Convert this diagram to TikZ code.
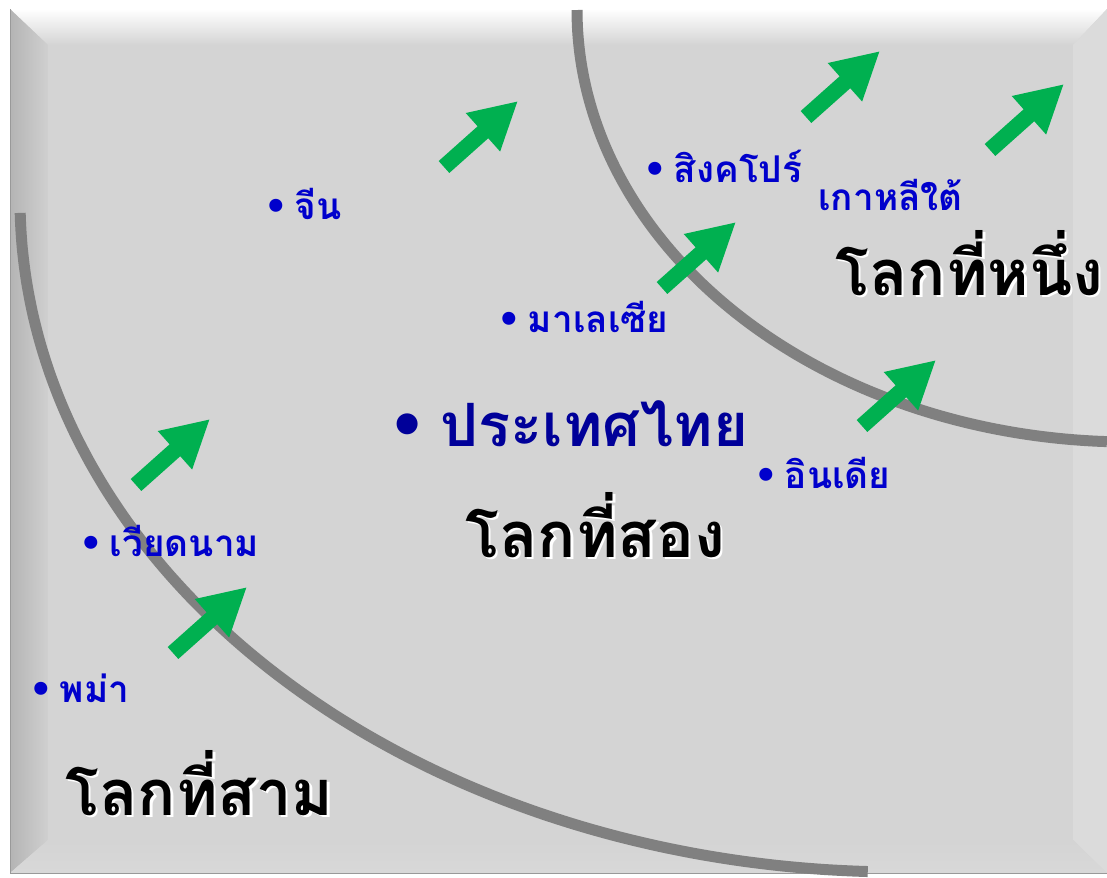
\documentclass[tikz,border=0pt]{standalone}
\usepackage{fontspec}
\usepackage{tikz}
\usetikzlibrary{arrows.meta}
\newfontfamily\thaifont[Script=Thai]{Loma}
\newfontfamily\dotfont{DejaVu Sans}
\definecolor{face}{HTML}{D4D4D4}
\definecolor{bevelright}{HTML}{DBDBDB}
\definecolor{bevelbottom}{HTML}{D8D8D8}
\definecolor{bevelleft}{HTML}{B4B4B4}
\definecolor{arcgray}{HTML}{808080}
\definecolor{arrowgreen}{HTML}{00B050}
\definecolor{countryblue}{HTML}{0000CC}
\definecolor{thaiblue}{HTML}{000099}
\newcommand\dotmark{{\dotfont •}}
\newcommand\glowtext[1]{\leavevmode\rlap{\kern0.045cm\raisebox{-0.045cm}{\color{white}#1}}#1}
\tikzstyle{country} = [anchor=base west, inner sep=0pt, text=countryblue, font=\thaifont\bfseries\fontsize{21pt}{25pt}\selectfont]
\tikzstyle{thailand} = [anchor=base west, inner sep=0pt, text=thaiblue, font=\thaifont\bfseries\fontsize{34pt}{40pt}\selectfont]
\tikzstyle{world} = [anchor=base west, inner sep=0pt, text=black, font=\thaifont\bfseries\fontsize{36pt}{42pt}\selectfont]
\tikzstyle{border} = [line width=0.22cm, draw=arcgray]
\tikzstyle{uparrow} = [line width=0.32cm, draw=arrowgreen, -{Triangle[length=0.94cm,width=0.96cm]}]

\begin{document}
\begin{tikzpicture}[x=0.02cm, y=-0.02cm]
	\useasboundingbox (0,0) rectangle (1107,877);
	\fill[white] (0,0) rectangle (1107,877);
	% bevelled frame
	\fill[face] (10,9) rectangle (1107,873);
	\shade[top color=white, bottom color=face] (10,9) -- (1107,9) -- (1073,45) -- (48,45) -- cycle;
	\shade[left color=bevelleft, right color=face!98!black] (10,9) -- (48,45) -- (48,840) -- (10,873) -- cycle;
	\fill[bevelright] (1107,9) -- (1107,873) -- (1073,840) -- (1073,45) -- cycle;
	\shade[top color=face, bottom color=bevelbottom] (10,873) -- (48,840) -- (1073,840) -- (1107,873) -- cycle;
	\draw[gray!80, line width=0.5pt] (10,9) -- (10,873) -- (1107,873);
	
	% the two worlds
	\draw[border] plot[domain=92.1:178.9, samples=120, smooth] ({900+880*cos(\x)}, {200+672*sin(\x)});
	\draw[border] plot[domain=92.4:180, samples=120, smooth] ({1130+553*cos(\x)}, {10+432*sin(\x)});
	
	% arrows
	\coordinate (arr1_tail) at (444,167);
	\coordinate (arr1_head) at (518,101);
	\coordinate (arr2_tail) at (806,117);
	\coordinate (arr2_head) at (880,51);
	\coordinate (arr3_tail) at (990,150);
	\coordinate (arr3_head) at (1064,84);
	\coordinate (arr4_tail) at (662,288);
	\coordinate (arr4_head) at (736,222);
	\coordinate (arr5_tail) at (862,426);
	\coordinate (arr5_head) at (936,360);
	\coordinate (arr6_tail) at (136,485);
	\coordinate (arr6_head) at (210,419);
	\coordinate (arr7_tail) at (173,653);
	\coordinate (arr7_head) at (247,587);
	\draw[uparrow] (arr1_tail) -- (arr1_head);
	\draw[uparrow] (arr2_tail) -- (arr2_head);
	\draw[uparrow] (arr3_tail) -- (arr3_head);
	\draw[uparrow] (arr4_tail) -- (arr4_head);
	\draw[uparrow] (arr5_tail) -- (arr5_head);
	\draw[uparrow] (arr6_tail) -- (arr6_head);
	\draw[uparrow] (arr7_tail) -- (arr7_head);
	
	% countries
	\node[country] (china) at (264,219) {\dotmark\hspace{4pt}จีน};
	\node[country] (singapore) at (643,182) {\dotmark\hspace{4pt}สิงคโปร์};
	\node[country] (korea) at (818,210) {เกาหลีใต้};
	\node[country] (malaysia) at (497,332) {\dotmark\hspace{4pt}มาเลเซีย};
	\node[country] (india) at (754,488) {\dotmark\hspace{4pt}อินเดีย};
	\node[country] (vietnam) at (79,556) {\dotmark\hspace{4pt}เวียดนาม};
	\node[country] (burma) at (29,702) {\dotmark\hspace{4pt}พม่า};
	\node[thailand] (thailand) at (388,446) {\dotmark\hspace{8pt}ประเทศไทย};
	
	% worlds
	\node[world] (first_world) at (835,295) {\glowtext{โลกที่หนึ่ง}};
	\node[world] (second_world) at (465,557) {\glowtext{โลกที่สอง}};
	\node[world] (third_world) at (65,815) {\glowtext{โลกที่สาม}};
\end{tikzpicture}
\end{document}
